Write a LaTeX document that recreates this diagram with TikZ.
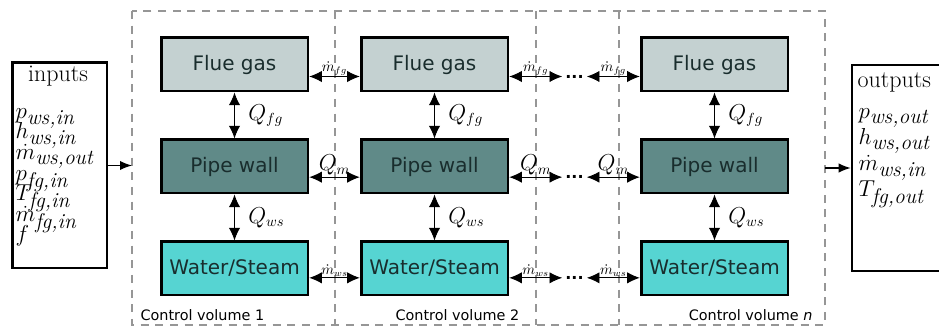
\documentclass[tikz,border=0pt]{standalone}
\usepackage{fontspec}
\usetikzlibrary{arrows.meta}
\newfontfamily\boxfont{DejaVu Sans}
\newcommand\tightlines{\lineskiplimit=-20pt\relax}
\definecolor{fluegas}{RGB}{196,209,209}
\definecolor{pipewall}{RGB}{96,138,136}
\definecolor{water}{RGB}{86,212,210}
\definecolor{boxtext}{RGB}{25,45,45}
\definecolor{cvgray}{RGB}{150,150,150}

\begin{document}
\begin{tikzpicture}[x=0.75pt, y=-0.75pt, node distance=76.5pt, thick,
    block/.style={draw, line width=2pt, minimum width=110pt, minimum height=40pt,
        text=boxtext, font=\boxfont\fontsize{15}{18}\selectfont},
    iobox/.style={draw, line width=2pt, minimum width=71pt, minimum height=154pt},
    flow/.style={{Latex[length=9.5pt,width=8.5pt]}-{Latex[length=9.5pt,width=8.5pt]}, line width=0.7pt},
    mlbl/.style={above, inner sep=0.5pt, font=\fontsize{10.5}{11}\selectfont},
    qlbl/.style={inner sep=1pt, font=\fontsize{16}{18}\selectfont},
    dots/.style={inner sep=2pt, font=\boxfont\bfseries\fontsize{12}{12}\selectfont},
    cvline/.style={cvgray, dash pattern=on 6pt off 5pt, line width=0.8pt},
    cvlbl/.style={inner sep=0pt, font=\boxfont\fontsize{10.8}{12}\selectfont},
    iolist/.style={anchor=north west, inner sep=0pt, align=left}]
    \path[use as bounding box, clip] (0,0) rectangle (939,327);

    % Control volume frames
    \draw[cvline] (132,11) rectangle (825,325);
    \draw[cvline] (335,11) -- (335,325);
    \draw[cvline] (536,11) -- (536,325);
    \draw[cvline] (619,11) -- (619,325);
    \node[cvlbl, anchor=west] at (140,315) {Control volume 1};
    \node[cvlbl, anchor=west] at (395,315) {Control volume 2};
    \node[cvlbl, anchor=east] at (813,315) {Control volume \textit{n}};

    % Control volume 1
    \node (fg1) [block, fill=fluegas] at (234.5,64.5) {Flue gas};
    \node (pw1) [block, fill=pipewall, below of=fg1] {Pipe wall};
    \node (ws1) [block, fill=water, below of=pw1] {Water/Steam};

    % Control volume 2
    \node (fg2) [block, fill=fluegas, right of=fg1, node distance=150pt] {Flue gas};
    \node (pw2) [block, fill=pipewall, right of=pw1, node distance=150pt] {Pipe wall};
    \node (ws2) [block, fill=water, right of=ws1, node distance=150pt] {Water/Steam};

    % Control volume n
    \node (fgn) [block, fill=fluegas, right of=fg2, node distance=210pt] {Flue gas};
    \node (pwn) [block, fill=pipewall, right of=pw2, node distance=210pt] {Pipe wall};
    \node (wsn) [block, fill=water, right of=ws2, node distance=210pt] {Water/Steam};

    % the dots between 2 and n
    \node (dfg) [dots, right of=fg2, node distance=105pt, yshift=-9pt] {...};
    \node (dpw) [dots, right of=pw2, node distance=105pt, yshift=-8pt] {...};
    \node (dws) [dots, right of=ws2, node distance=105pt, yshift=-7pt] {...};

    % heat flows inside each volume
    \foreach \i in {1,2,n} {
        \draw[flow] (fg\i) -- node[qlbl, right=9pt] {$Q_{fg}$} (pw\i);
        \draw[flow] (pw\i) -- node[qlbl, right=9pt] {$Q_{ws}$} (ws\i);
    }

    % flows between volumes
    \draw[flow] ([yshift=-9pt]fg1.east) -- node[mlbl] {$\dot m_{fg}$} ([yshift=-9pt]fg2.west);
    \draw[flow] ([yshift=-8pt]pw1.east) -- node[qlbl, above] {$Q_m$} ([yshift=-8pt]pw2.west);
    \draw[flow] ([yshift=-7pt]ws1.east) -- node[mlbl] {$\dot m_{ws}$} ([yshift=-7pt]ws2.west);

    \draw[flow] ([yshift=-9pt]fg2.east) -- node[mlbl] {$\dot m_{fg}$} (dfg);
    \draw[flow] ([yshift=-8pt]pw2.east) -- node[qlbl, above] {$Q_m$} (dpw);
    \draw[flow] ([yshift=-7pt]ws2.east) -- node[mlbl] {$\dot m_{ws}$} (dws);

    \draw[flow] (dfg) -- node[mlbl] {$\dot m_{fg}$} ([yshift=-9pt]fgn.west);
    \draw[flow] (dpw) -- node[qlbl, above] {$Q_m$} ([yshift=-8pt]pwn.west);
    \draw[flow] (dws) -- node[mlbl] {$\dot m_{ws}$} ([yshift=-7pt]wsn.west);

    % Inputs
    \node (inbox) [iobox] at (59.5,165.5) {};
    \node (intitle) [font=\fontsize{18}{20}\selectfont] at (58,76) {inputs};
    \node (inlist) [iolist, font={\fontsize{16}{13.4}\selectfont\tightlines}] at (15,108)
        {$p_{\textit{ws,in}}$\\[2pt] $h_{\textit{ws,in}}$\\[2pt] $\dot m_{\textit{ws,out}}$\\[2pt]
         $p_{\textit{fg,in}}$\\[2pt] $T_{\textit{fg,in}}$\\[2pt] $\dot m_{\textit{fg,in}}$\\[2pt] $f$};
    \coordinate (frameL) at (132,165.5);
    \draw[-{Latex[length=9pt,width=7pt]}, line width=0.9pt] (inbox.east) -- (frameL);

    % Outputs
    \node (outbox) [iobox, minimum width=70.5pt, minimum height=154.5pt] at (899,168) {};
    \node (outtitle) [font=\fontsize{18}{20}\selectfont, anchor=west, inner sep=0pt] at (857,82) {outputs};
    \node (outlist) [iolist, font={\fontsize{16}{16.5}\selectfont\tightlines}] at (858,108)
        {$p_{\textit{ws,out}}$\\[3pt] $h_{\textit{ws,out}}$\\[3pt] $\dot m_{\textit{ws,in}}$\\[3pt] $T_{\textit{fg,out}}$};
    \coordinate (frameR) at (825,168);
    \draw[-{Latex[length=9pt,width=7pt]}, line width=0.9pt] (frameR) -- (outbox);
\end{tikzpicture}
\end{document}
